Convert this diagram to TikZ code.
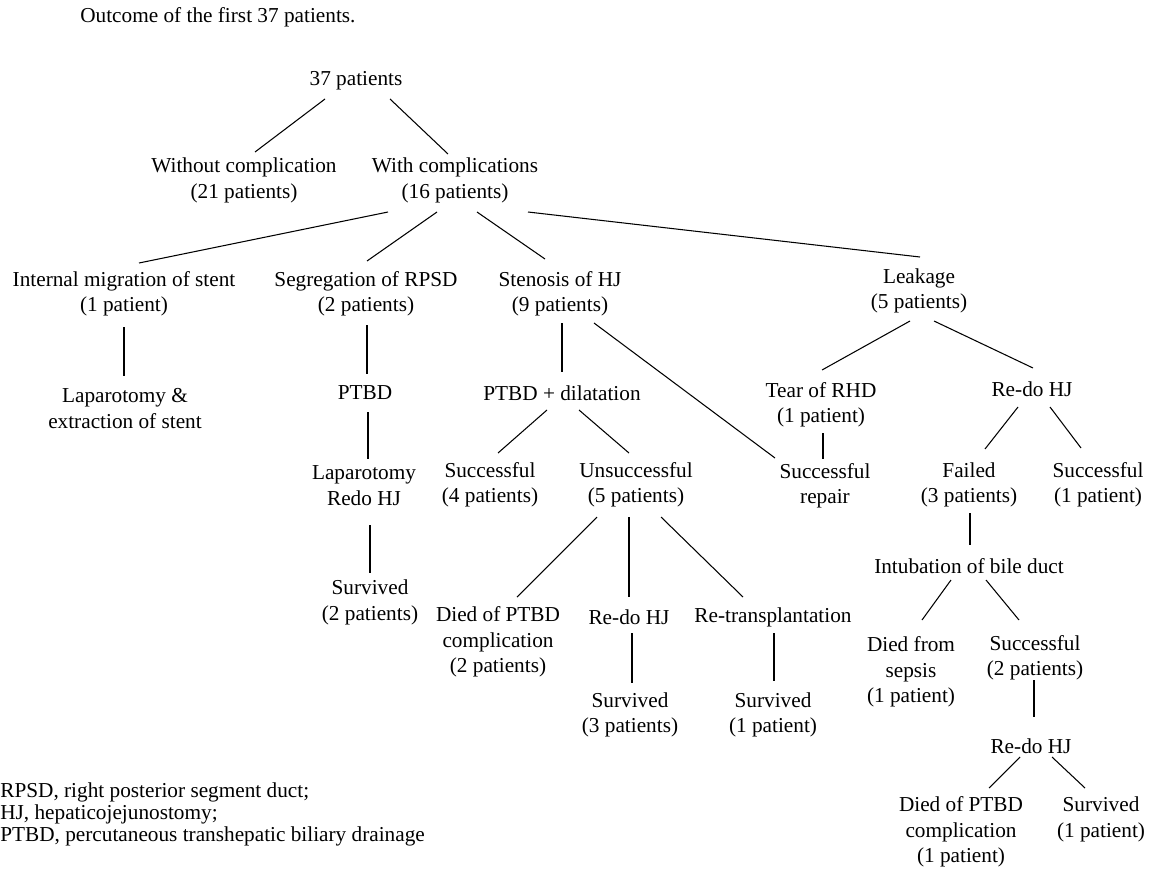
\documentclass[tikz,border=0pt]{standalone}
\usepackage{fontspec}
\setmainfont{Liberation Serif}
\usetikzlibrary{calc}
\tikzset{
  tn/.style={align=center, inner sep=0pt, font=\fontsize{12.1}{14.46}\selectfont},
  lg/.style={align=left, inner sep=0pt, anchor=west, font=\fontsize{12.1}{12.5}\selectfont},
  conn/.style={draw=black, line width=0.6pt}
}
\begin{document}
\begin{tikzpicture}[x=0.02cm, y=-0.02cm]
\useasboundingbox (0,0) rectangle (1152,869);
\fill[white] (0,0) rectangle (1152,869);

\node[tn, anchor=west] (title) at (80,17) {Outcome of the first 37 patients.};

\node[tn] (n37) at (356,81) {37 patients};
\node[tn] (without) at (244,180.5) {Without complication\\(21 patients)};
\node[tn] (with) at (455,180.5) {With complications\\(16 patients)};

\node[tn] (internal) at (124,294) {Internal migration of stent\\(1 patient)};
\node[tn] (segreg) at (366,294) {Segregation of RPSD\\(2 patients)};
\node[tn] (stenosis) at (560,294) {Stenosis of HJ\\(9 patients)};
\node[tn] (leakage) at (919,291) {Leakage\\(5 patients)};

\node[tn] (laparo1) at (125,408.5) {Laparotomy \&\\extraction of stent};
\node[tn] (ptbd1) at (365,393) {PTBD};
\node[tn] (ptbddil) at (562,393) {PTBD + dilatation};
\node[tn] (tear) at (821,405) {Tear of RHD\\(1 patient)};
\node[tn] (redo1) at (1032,389) {Re-do HJ};

\node[tn] (laparo2) at (364,485.5) {Laparotomy\\Redo HJ};
\node[tn] (succ4) at (490,485) {Successful\\(4 patients)};
\node[tn] (unsucc) at (636,485) {Unsuccessful\\(5 patients)};
\node[tn] (repair) at (825,486) {Successful\\repair};
\node[tn] (failed) at (969,485) {Failed\\(3 patients)};
\node[tn] (succ1) at (1098,485) {Successful\\(1 patient)};

\node[tn] (intub) at (969,566) {Intubation of bile duct};

\node[tn] (surv2) at (370,602.5) {Survived\\(2 patients)};
\node[tn] (died2) at (498,642) {Died of PTBD\\complication\\(2 patients)};
\node[tn] (redo2) at (629,617) {Re-do HJ};
\node[tn] (retrans) at (773,617) {Re-transplantation};
\node[tn] (diedsep) at (911,672) {Died from\\sepsis\\(1 patient)};
\node[tn] (succ2) at (1035,657.5) {Successful\\(2 patients)};

\node[tn] (surv3) at (630,715) {Survived\\(3 patients)};
\node[tn] (surv1a) at (773,715) {Survived\\(1 patient)};
\node[tn] (redo3) at (1031,746) {Re-do HJ};
\node[tn] (died1) at (961,832) {Died of PTBD\\complication\\(1 patient)};
\node[tn] (surv1b) at (1101,819.5) {Survived\\(1 patient)};

\node[lg] (legend) at (0,814) {RPSD, right posterior segment duct;\\HJ, hepaticojejunostomy;\\PTBD, percutaneous transhepatic biliary drainage};

\draw[conn] ($(n37)+(-31,18)$) -- ($(without)+(11,-28.5)$);
\draw[conn] ($(n37)+(34,18)$) -- ($(with)+(-7,-26.5)$);
\draw[conn] ($(with)+(-67,31.5)$) -- ($(internal)+(15,-31)$);
\draw[conn] ($(with)+(-18,31.5)$) -- ($(segreg)+(1,-33)$);
\draw[conn] ($(with)+(22,31.5)$) -- ($(stenosis)+(-15,-35)$);
\draw[conn] ($(with)+(73,31.5)$) -- ($(leakage)+(1,-34)$);
\draw[conn] ($(internal)+(0,33)$) -- ($(laparo1)+(-1,-32.5)$);
\draw[conn] ($(segreg)+(1,31)$) -- ($(ptbd1)+(2,-19)$);
\draw[conn] ($(ptbd1)+(3,19)$) -- ($(laparo2)+(4,-26.5)$);
\draw[conn] ($(laparo2)+(6,39.5)$) -- ($(surv2)+(0,-29.5)$);
\draw[conn] ($(stenosis)+(2,29)$) -- ($(ptbddil)+(0,-21)$);
\draw[conn] ($(stenosis)+(34,29)$) -- ($(repair)+(-50,-28)$);
\draw[conn] ($(ptbddil)+(-15,17)$) -- ($(succ4)+(8,-32)$);
\draw[conn] ($(ptbddil)+(17,17)$) -- ($(unsucc)+(-7,-32)$);
\draw[conn] ($(unsucc)+(-39,32)$) -- ($(died2)+(19,-45)$);
\draw[conn] ($(unsucc)+(-7,32)$) -- ($(redo2)+(0,-20)$);
\draw[conn] ($(unsucc)+(25,32)$) -- ($(retrans)+(-30,-20)$);
\draw[conn] ($(redo2)+(3,16)$) -- ($(surv3)+(2,-32)$);
\draw[conn] ($(retrans)+(1,16)$) -- ($(surv1a)+(1,-34)$);
\draw[conn] ($(leakage)+(-9,30)$) -- ($(tear)+(1,-35)$);
\draw[conn] ($(leakage)+(15,30)$) -- ($(redo1)+(1,-21)$);
\draw[conn] ($(tear)+(2,28)$) -- ($(repair)+(-2,-27)$);
\draw[conn] ($(redo1)+(-14,18)$) -- ($(failed)+(16,-36)$);
\draw[conn] ($(redo1)+(18,18)$) -- ($(succ1)+(-17,-37)$);
\draw[conn] ($(failed)+(1,28)$) -- ($(intub)+(1,-21)$);
\draw[conn] ($(intub)+(-18,14)$) -- ($(diedsep)+(11,-52)$);
\draw[conn] ($(intub)+(17,14)$) -- ($(succ2)+(-16,-37.5)$);
\draw[conn] ($(succ2)+(-1,22.5)$) -- ($(redo3)+(3,-29)$);
\draw[conn] ($(redo3)+(-11,11)$) -- ($(died1)+(28,-44)$);
\draw[conn] ($(redo3)+(21,11)$) -- ($(surv1b)+(-16,-31.5)$);
\end{tikzpicture}
\end{document}
